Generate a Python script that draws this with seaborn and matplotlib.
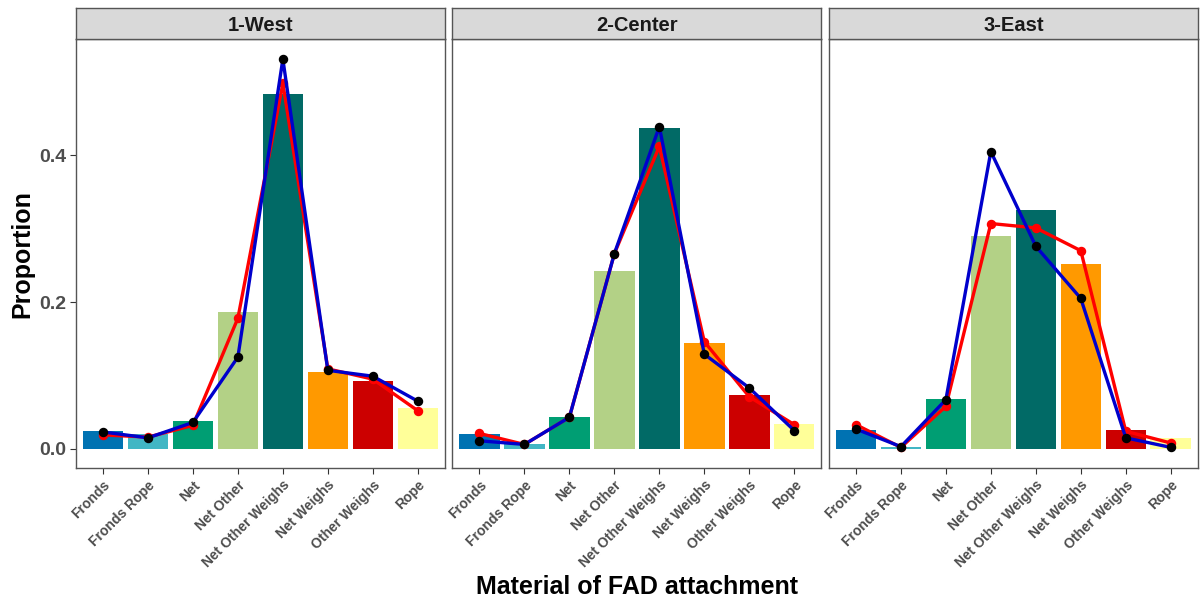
import numpy as np
import pandas as pd
import matplotlib
matplotlib.use("Agg")
import matplotlib.pyplot as plt
import seaborn as sns

materials = ["Fronds", "Fronds Rope", "Net", "Net Other", "Net Other Weighs",
             "Net Weighs", "Other Weighs", "Rope"]
regions = ["1-West", "2-Center", "3-East"]
colors = ["#0072B2", "#41B6C4", "#009E73", "#B3D186", "#016A66",
          "#FF9900", "#CC0000", "#FFFF99"]

bar_west = [0.024, 0.020, 0.038, 0.186, 0.483, 0.105, 0.093, 0.056]
bar_center = [0.020, 0.007, 0.044, 0.242, 0.437, 0.144, 0.074, 0.034]
bar_east = [0.026, 0.003, 0.068, 0.290, 0.325, 0.252, 0.026, 0.015]

red_west = [0.019, 0.016, 0.032, 0.178, 0.498, 0.109, 0.095, 0.052]
red_center = [0.021, 0.006, 0.043, 0.266, 0.412, 0.146, 0.071, 0.033]
red_east = [0.033, 0.002, 0.058, 0.307, 0.301, 0.270, 0.024, 0.008]

blue_west = [0.023, 0.015, 0.036, 0.125, 0.531, 0.107, 0.099, 0.065]
blue_center = [0.011, 0.006, 0.043, 0.266, 0.439, 0.129, 0.083, 0.025]
blue_east = [0.027, 0.003, 0.067, 0.405, 0.276, 0.205, 0.015, 0.002]

yticks = [0.0, 0.2, 0.4]
ytick_labels = ["0.0", "0.2", "0.4"]

bars = {"1-West": bar_west, "2-Center": bar_center, "3-East": bar_east}
reds = {"1-West": red_west, "2-Center": red_center, "3-East": red_east}
blues = {"1-West": blue_west, "2-Center": blue_center, "3-East": blue_east}

rows = []
for r in regions:
    for i, m in enumerate(materials):
        rows.append({"region": r, "material": m, "bar": bars[r][i],
                     "red": reds[r][i], "blue": blues[r][i]})
df = pd.DataFrame(rows)

sns.set_theme(style="white")
plt.rcParams["font.family"] = ["Liberation Sans", "DejaVu Sans"]

fig, axes = plt.subplots(1, 3, figsize=(12, 6.03), dpi=100, sharey=True)
fig.subplots_adjust(left=76 / 1200, right=1197.7 / 1200, bottom=1 - 468.3 / 603,
                    top=1 - 39.3 / 603, wspace=0.021)

tick_grey = "#4D4D4D"
border = "#555555"

for ax, r in zip(axes, regions):
    sub = df[df["region"] == r]
    sns.barplot(data=sub, x="material", y="bar", hue="material", order=materials,
                hue_order=materials, palette=colors, width=0.9, saturation=1,
                legend=False, ax=ax, errorbar=None, linewidth=0)
    sns.pointplot(data=sub, x="material", y="red", order=materials, color="#FF0000",
                  markers="o", errorbar=None, ax=ax, linewidth=2.4, markersize=5)
    sns.pointplot(data=sub, x="material", y="blue", order=materials, color="#0000CC",
                  markers="o", errorbar=None, ax=ax, linewidth=2.4, markersize=5,
                  markerfacecolor="black", markeredgecolor="black")
    ax.set_xlim(-0.6, 7.6)
    ax.set_ylim(-0.0265, 0.558)
    ax.set_xlabel("")
    ax.set_ylabel("")
    ax.set_xticks(range(len(materials)))
    ax.set_xticklabels(materials, rotation=45, ha="right", va="top",
                       rotation_mode="anchor", fontsize=10, fontweight="bold",
                       color=tick_grey)
    ax.tick_params(axis="x", length=4, width=0.8, color="#333333", pad=3,
                   bottom=True)
    for s in ax.spines.values():
        s.set_color(border)
        s.set_linewidth(1.0)
    ax.grid(False)
    pos = ax.get_position()
    sax = fig.add_axes([pos.x0, pos.y1, pos.width, 31.3 / 603])
    sax.set_facecolor("#D9D9D9")
    sax.set_xticks([])
    sax.set_yticks([])
    for s in sax.spines.values():
        s.set_color(border)
        s.set_linewidth(1.0)
    sax.text(0.5, 0.43, r, ha="center", va="center", fontsize=14.5,
             fontweight="bold", color="#1A1A1A", transform=sax.transAxes)

axes[0].set_yticks(yticks)
axes[0].set_yticklabels(ytick_labels, fontsize=14, fontweight="bold", color=tick_grey)
axes[0].tick_params(axis="y", length=4, width=0.8, color="#333333", pad=3, left=True)
for ax in axes[1:]:
    ax.tick_params(axis="y", left=False, labelleft=False)

fig.text(22 / 1200, 1 - 253.8 / 603, "Proportion", rotation=90, ha="center",
         va="center", fontsize=18, fontweight="bold", color="black")
fig.text(636.9 / 1200, 1 - 587 / 603, "Material of FAD attachment", ha="center",
         va="center", fontsize=18, fontweight="bold", color="black")

fig.savefig("out.png", dpi=100)
